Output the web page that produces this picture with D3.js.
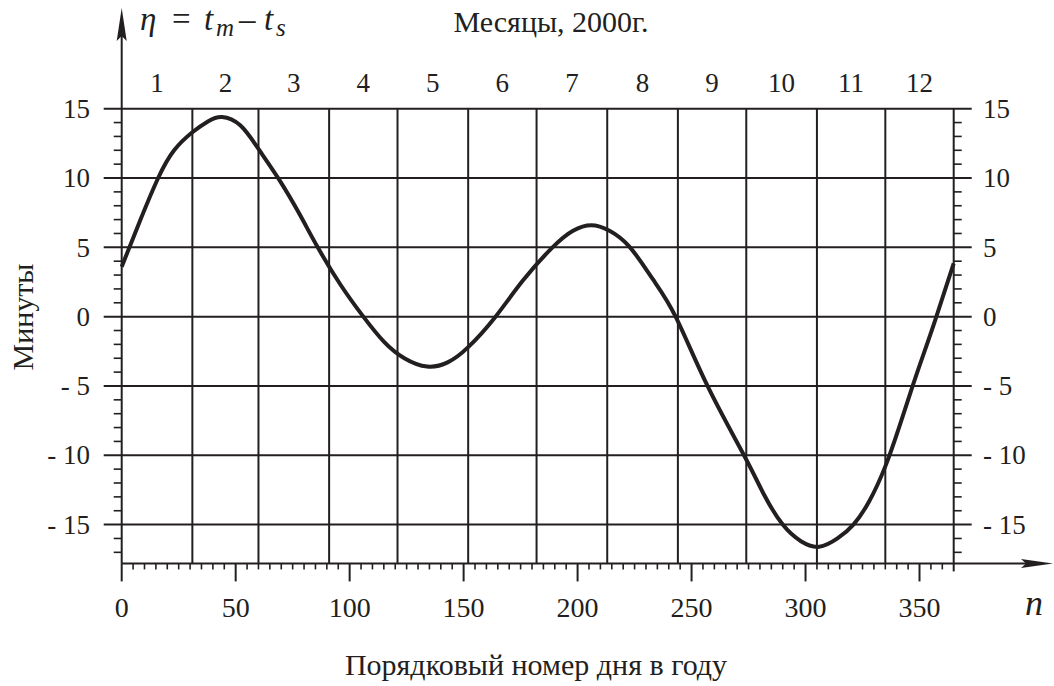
<!DOCTYPE html>
<html><head><meta charset="utf-8">
<script src="https://cdn.jsdelivr.net/npm/d3@7"></script>
<style>
html,body{margin:0;padding:0;background:#fff;}
svg text{font-family:"Liberation Serif","Times New Roman",serif;fill:#231f20;}
</style></head>
<body><svg id="c" width="1054" height="686"></svg>
<script>
// ---- data ----
const days = [0,8,16,23,31,38,44,52,60,69,78,86,96,106,115,124,134,143,152,164,176,189,198,206,214,223,233,243,257,273,282,290,298,306,314,321,328,335,341,347,352,357,365];
const eta  = [3.6,6.9,10.0,12.0,13.3,14.1,14.4,13.8,12.1,9.9,7.4,5.0,2.3,0,-1.8,-3.0,-3.6,-3.3,-2.2,0,2.6,5.0,6.2,6.6,6.2,5.0,2.7,0,-5.0,-10.0,-12.9,-15.0,-16.2,-16.6,-16.0,-15.0,-13.3,-10.8,-8.0,-5.0,-2.6,-0.2,3.85];
const monthStarts = [31,60,91,121,152,182,213,244,274,305,335];
const monthLabels = ["1","2","3","4","5","6","7","8","9","10","11","12"];
const xTickValues = [0,50,100,150,200,250,300,350];
const yTickValues = [15,10,5,0,-5,-10,-15];
const yTickLabels = ["15","10","5","0","- 5","- 10","- 15"];

const ink = "#231f20";
const svg = d3.select("#c");
const x = d3.scaleLinear().domain([0,365]).range([121.7,953.7]);
const y = d3.scaleLinear().domain([-15,15]).range([524.6,108.7]);
const yBottom = -17.8;
const y0 = y(yBottom);

// horizontal grid
svg.selectAll("line.hg").data(yTickValues).enter().append("line")
  .attr("x1", x(0)-18).attr("x2", x(365)+18)
  .attr("y1", d=>y(d)).attr("y2", d=>y(d))
  .attr("stroke", ink).attr("stroke-width", 2);
// vertical month grid
svg.selectAll("line.vg").data(monthStarts).enter().append("line")
  .attr("x1", d=>x(d)).attr("x2", d=>x(d))
  .attr("y1", y(15)).attr("y2", y0)
  .attr("stroke", ink).attr("stroke-width", 2);

// minor y ticks
const yMinor = d3.range(-17, 15).filter(v=>v%5!==0);
svg.selectAll("line.ylm").data(yMinor).enter().append("line")
  .attr("x1", x(0)-8).attr("x2", x(0)).attr("y1", d=>y(d)).attr("y2", d=>y(d))
  .attr("stroke", ink).attr("stroke-width", 1.6);
svg.selectAll("line.yrm").data(yMinor).enter().append("line")
  .attr("x1", x(365)).attr("x2", x(365)+8).attr("y1", d=>y(d)).attr("y2", d=>y(d))
  .attr("stroke", ink).attr("stroke-width", 1.6);

// minor x ticks
const xMinor = d3.range(5, 365, 5).filter(v=>v%50!==0);
svg.selectAll("line.xm").data(xMinor).enter().append("line")
  .attr("x1", d=>x(d)).attr("x2", d=>x(d)).attr("y1", y0).attr("y2", y0+6)
  .attr("stroke", ink).attr("stroke-width", 1.6);
svg.selectAll("line.xM").data(xTickValues).enter().append("line")
  .attr("x1", d=>x(d)).attr("x2", d=>x(d)).attr("y1", y0).attr("y2", y0+18)
  .attr("stroke", ink).attr("stroke-width", 2);
svg.append("line").attr("x1", x(365)).attr("x2", x(365)).attr("y1", y0).attr("y2", y0+8)
  .attr("stroke", ink).attr("stroke-width", 2);

// axes
svg.append("line").attr("x1", x(0)).attr("x2", x(0)).attr("y1", y0).attr("y2", 30)
  .attr("stroke", ink).attr("stroke-width", 2);
svg.append("path").attr("d", `M${x(0)},8 L${x(0)+5},41 L${x(0)},36 L${x(0)-5},41 Z`).attr("fill", ink);
svg.append("line").attr("x1", x(365)).attr("x2", x(365)).attr("y1", y(15)).attr("y2", y0)
  .attr("stroke", ink).attr("stroke-width", 2);
svg.append("line").attr("x1", x(0)).attr("x2", 1030).attr("y1", y0).attr("y2", y0)
  .attr("stroke", ink).attr("stroke-width", 2);
svg.append("path").attr("d", `M1053,${y0} L1021,${y0-4.5} L1026,${y0} L1021,${y0+4.5} Z`).attr("fill", ink);

// curve
const line = d3.line().x(d=>x(d[0])).y(d=>y(d[1])).curve(d3.curveNatural);
svg.append("path").datum(days.map((d,i)=>[d,eta[i]]))
  .attr("d", line).attr("fill","none").attr("stroke", ink).attr("stroke-width", 4)
  .attr("stroke-linejoin","round");

// tick labels
const fs = 27;
svg.selectAll("text.yl").data(yTickValues).enter().append("text")
  .attr("x", 90).attr("y", d=>y(d)).attr("dy","0.34em").attr("text-anchor","end")
  .attr("font-size", fs).text((d,i)=>yTickLabels[i]);
svg.selectAll("text.yr").data(yTickValues).enter().append("text")
  .attr("x", 983).attr("y", d=>y(d)).attr("dy","0.34em").attr("text-anchor","start")
  .attr("font-size", fs).text((d,i)=>yTickLabels[i]);
svg.selectAll("text.xl").data(xTickValues).enter().append("text")
  .attr("x", d=>x(d)).attr("y", 616.5).attr("text-anchor","middle")
  .attr("font-size", 28).text(d=>d);
const monthBounds = [0].concat(monthStarts).concat([365]);
svg.selectAll("text.ml").data(monthLabels).enter().append("text")
  .attr("x", (d,i)=>x((monthBounds[i]+monthBounds[i+1])/2)).attr("y", 92)
  .attr("text-anchor","middle").attr("font-size", fs).text(d=>d);

// titles
svg.append("text").attr("x", 551).attr("y", 32).attr("text-anchor","middle")
  .attr("font-size", 30).text("Месяцы, 2000г.");
svg.append("text").attr("x", 536).attr("y", 675).attr("text-anchor","middle")
  .attr("font-size", 30).text("Порядковый номер дня в году");
svg.append("text").attr("transform","translate(33,317) rotate(-90)").attr("text-anchor","middle")
  .attr("font-size", 30).text("Минуты");
svg.append("text").attr("x", 1034).attr("y", 615).attr("text-anchor","middle")
  .attr("font-size", 36).attr("font-style","italic").text("n");

const eq = svg.append("text").attr("y", 30).attr("font-size", 33);
eq.append("tspan").attr("x", 140).attr("font-style","italic").text("η");
eq.append("tspan").attr("x", 172).text("=");
eq.append("tspan").attr("x", 204).attr("font-style","italic").text("t");
eq.append("tspan").attr("x", 216).attr("font-style","italic").attr("font-size",25).attr("dy",6).text("m");
eq.append("tspan").attr("x", 239).attr("dy",-6).text("–");
eq.append("tspan").attr("x", 264).attr("font-style","italic").text("t");
eq.append("tspan").attr("x", 276).attr("font-style","italic").attr("font-size",25).attr("dy",6).text("s");
</script></body></html>
